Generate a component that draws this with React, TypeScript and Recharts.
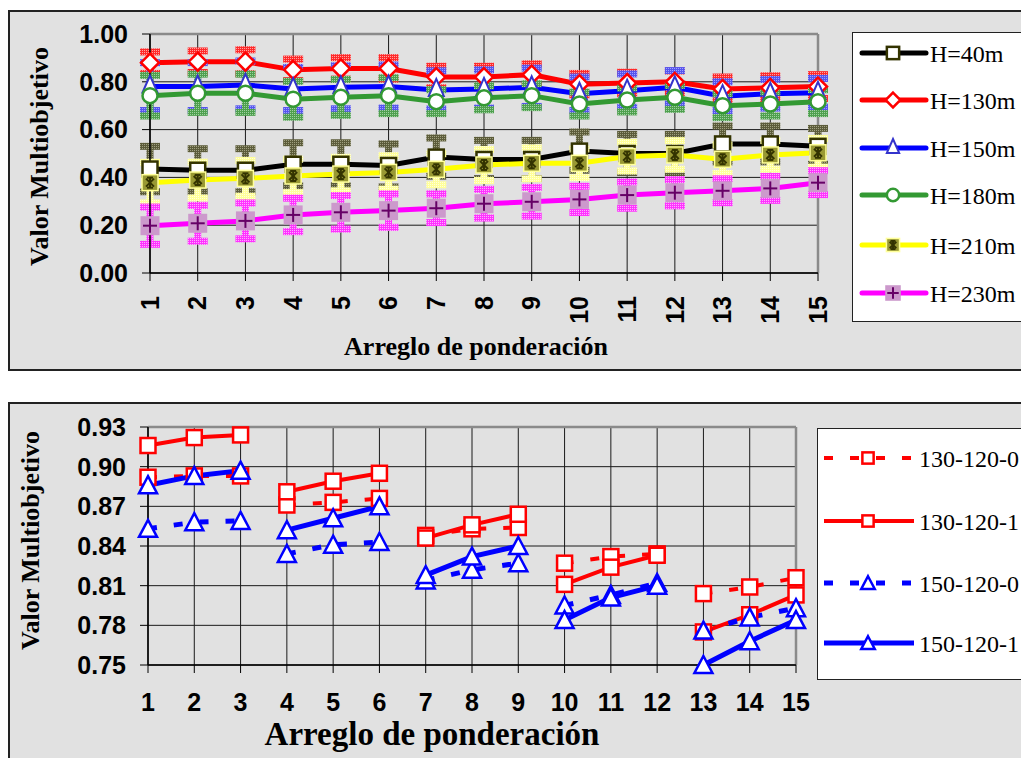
import React from 'react';
import { LineChart, Line, XAxis, YAxis, CartesianGrid, ErrorBar, ReferenceLine } from 'recharts';

// ---------- DATA ----------
const categories = [1, 2, 3, 4, 5, 6, 7, 8, 9, 10, 11, 12, 13, 14, 15];

// Top chart
const topYTicks = [0, 0.2, 0.4, 0.6, 0.8, 1.0];
const h40 = [0.435, 0.43, 0.43, 0.455, 0.455, 0.45, 0.485, 0.475, 0.475, 0.51, 0.5, 0.5, 0.54, 0.54, 0.53];
const h130 = [0.88, 0.884, 0.884, 0.85, 0.856, 0.856, 0.82, 0.82, 0.83, 0.79, 0.795, 0.8, 0.77, 0.775, 0.78];
const h150 = [0.78, 0.78, 0.787, 0.77, 0.777, 0.78, 0.766, 0.77, 0.777, 0.75, 0.763, 0.777, 0.74, 0.75, 0.754];
const h180 = [0.742, 0.752, 0.752, 0.727, 0.735, 0.742, 0.717, 0.733, 0.742, 0.707, 0.724, 0.735, 0.7, 0.707, 0.717];
const h210 = [0.378, 0.389, 0.396, 0.406, 0.414, 0.421, 0.434, 0.452, 0.459, 0.459, 0.487, 0.494, 0.476, 0.494, 0.503];
const h230 = [0.198, 0.208, 0.218, 0.243, 0.254, 0.261, 0.271, 0.29, 0.298, 0.308, 0.326, 0.336, 0.344, 0.354, 0.378];

const err40 = [0.095, 0.09, 0.09, 0.09, 0.09, 0.09, 0.08, 0.08, 0.08, 0.08, 0.08, 0.08, 0.075, 0.075, 0.075];
const err130 = [0.045, 0.045, 0.05, 0.045, 0.045, 0.045, 0.045, 0.045, 0.045, 0.045, 0.045, 0.045, 0.05, 0.05, 0.05];
const err150 = [0.1, 0.1, 0.1, 0.09, 0.09, 0.09, 0.08, 0.08, 0.08, 0.07, 0.07, 0.07, 0.06, 0.06, 0.06];
const err180 = [0.085, 0.08, 0.08, 0.075, 0.075, 0.075, 0.05, 0.05, 0.05, 0.05, 0.05, 0.05, 0.05, 0.05, 0.05];
const err210 = [0.085, 0.075, 0.075, 0.07, 0.07, 0.07, 0.065, 0.065, 0.065, 0.06, 0.06, 0.06, 0.06, 0.06, 0.06];
const err230 = [0.078, 0.075, 0.075, 0.07, 0.07, 0.07, 0.06, 0.06, 0.06, 0.055, 0.055, 0.055, 0.05, 0.05, 0.05];

const topNames = ['H=40m', 'H=130m', 'H=150m', 'H=180m', 'H=210m', 'H=230m'];

// Bottom chart
const bottomYTicks = [0.75, 0.78, 0.81, 0.84, 0.87, 0.9, 0.93];
const s130_0 = [0.892, 0.893, 0.893, 0.871, 0.873, 0.876, 0.848, 0.853, 0.854, 0.827, 0.832, 0.834, 0.804, 0.809, 0.816];
const s130_1 = [0.916, 0.922, 0.924, 0.881, 0.889, 0.895, 0.846, 0.856, 0.864, 0.811, 0.824, 0.833, 0.775, 0.788, 0.803];
const s150_0 = [0.853, 0.858, 0.859, 0.834, 0.841, 0.843, 0.814, 0.822, 0.827, 0.795, 0.803, 0.812, 0.776, 0.786, 0.793];
const s150_1 = [0.886, 0.893, 0.897, 0.852, 0.861, 0.87, 0.818, 0.832, 0.84, 0.784, 0.801, 0.81, 0.75, 0.768, 0.784];
const groupSize = 3;
const bottomNames = ['130-120-0', '130-120-1', '150-120-0', '150-120-1'];

// ---------- build tables ----------
const topData = categories.map((c, i) => ({
  x: c,
  h40: h40[i], e40: err40[i],
  h130: h130[i], e130: err130[i],
  h150: h150[i], e150: err150[i],
  h180: h180[i], e180: err180[i],
  h210: h210[i], e210: err210[i],
  h230: h230[i], e230: err230[i],
}));

const bottomData: any[] = [];
categories.forEach((c, i) => {
  bottomData.push({ x: c, a: s130_0[i], b: s130_1[i], c: s150_0[i], d: s150_1[i] });
  if ((i + 1) % groupSize === 0 && i < categories.length - 1) {
    bottomData.push({ x: c + 0.5, a: null, b: null, c: null, d: null });
  }
});

// ---------- styles ----------
const BG = '#e1e1e1';
const SANS = '"Liberation Sans", Arial, sans-serif';
const SERIF = '"Liberation Serif", "Times New Roman", serif';

// ---------- markers ----------
type Draw = (x: number, y: number, s?: number) => React.ReactNode;

const mSquare40: Draw = (x, y, s = 1) => (
  <rect x={x - 7.5 * s} y={y - 7.5 * s} width={15 * s} height={15 * s} fill="#fff" stroke="#333300" strokeWidth={2.5} />
);
const mDiamond: Draw = (x, y, s = 1) => {
  const r = 9 * s;
  return <polygon points={`${x},${y - r} ${x + r},${y} ${x},${y + r} ${x - r},${y}`} fill="#fff" stroke="#ff0000" strokeWidth={2.5} />;
};
const mTri150: Draw = (x, y, s = 1) => (
  <polygon points={`${x},${y - 11 * s} ${x + 7.5 * s},${y + 6 * s} ${x - 7.5 * s},${y + 6 * s}`} fill="#fff" stroke="#3333cc" strokeWidth={2} />
);
const mCircle: Draw = (x, y, s = 1) => (
  <circle cx={x} cy={y} r={7.5 * s} fill="#fff" stroke="#339933" strokeWidth={2.5} />
);
const mStar: Draw = (x, y, s = 1) => (
  <g>
    <rect x={x - 8 * s} y={y - 8 * s} width={16 * s} height={16 * s} fill="#999933" stroke="#ffff99" strokeWidth={1.5} />
    <g stroke="#333300" strokeWidth={2}>
      <line x1={x - 4 * s} y1={y - 4 * s} x2={x + 4 * s} y2={y + 4 * s} />
      <line x1={x - 4 * s} y1={y + 4 * s} x2={x + 4 * s} y2={y - 4 * s} />
      <line x1={x} y1={y - 5 * s} x2={x} y2={y + 5 * s} />
      <line x1={x - 3 * s} y1={y - 5 * s} x2={x + 3 * s} y2={y - 5 * s} />
      <line x1={x - 3 * s} y1={y + 5 * s} x2={x + 3 * s} y2={y + 5 * s} />
    </g>
  </g>
);
const mPlus: Draw = (x, y, s = 1) => (
  <g>
    <rect x={x - 9.5 * s} y={y - 9.5 * s} width={19 * s} height={19 * s} fill="#cc99cc" />
    <g stroke="#660066" strokeWidth={2}>
      <line x1={x - 7 * s} y1={y} x2={x + 7 * s} y2={y} />
      <line x1={x} y1={y - 7 * s} x2={x} y2={y + 7 * s} />
    </g>
  </g>
);
const mSqRed: Draw = (x, y, s = 1) => (
  <rect x={x - 7.5 * s} y={y - 7.5 * s} width={15 * s} height={15 * s} fill="#fff" stroke="#ff0000" strokeWidth={2.5} />
);
const mTriBlue: Draw = (x, y, s = 1) => (
  <polygon points={`${x},${y - 9 * s} ${x + 9 * s},${y + 8 * s} ${x - 9 * s},${y + 8 * s}`} fill="#fff" stroke="#0000ff" strokeWidth={2.5} />
);

const dotFn = (draw: Draw) => (p: any) => {
  const { cx, cy, index } = p;
  if (cx == null || cy == null || Number.isNaN(cx) || Number.isNaN(cy)) return <g key={`n${index}`} />;
  return <g key={`d${index}`}>{draw(cx, cy)}</g>;
};

const topSeries = [
  { key: 'h40', err: 'e40', name: topNames[0], color: '#000000', pat: 'pOlive', marker: mSquare40 },
  { key: 'h130', err: 'e130', name: topNames[1], color: '#ff0000', pat: 'pRed', marker: mDiamond },
  { key: 'h150', err: 'e150', name: topNames[2], color: '#0000ff', pat: 'pBlue', marker: mTri150 },
  { key: 'h180', err: 'e180', name: topNames[3], color: '#339933', pat: 'pGreen', marker: mCircle },
  { key: 'h210', err: 'e210', name: topNames[4], color: '#ffff00', pat: 'pYellow', marker: mStar },
  { key: 'h230', err: 'e230', name: topNames[5], color: '#ff00ff', pat: 'pMagenta', marker: mPlus },
];

const bottomSeries = [
  { key: 'a', name: bottomNames[0], color: '#ff0000', dash: '9 17', width: 4, marker: mSqRed },
  { key: 'b', name: bottomNames[1], color: '#ff0000', dash: undefined, width: 4, marker: mSqRed },
  { key: 'c', name: bottomNames[2], color: '#0000ff', dash: '9 17', width: 5, marker: mTriBlue },
  { key: 'd', name: bottomNames[3], color: '#0000ff', dash: undefined, width: 5, marker: mTriBlue },
];

const patterns = [
  { id: 'pOlive', base: '#5c5c3a', dot: '#a0a080' },
  { id: 'pRed', base: '#ff2a2a', dot: '#ffa0a0' },
  { id: 'pBlue', base: '#5555ee', dot: '#a0a0ff' },
  { id: 'pGreen', base: '#4ea04e', dot: '#a0d0a0' },
  { id: 'pYellow', base: '#ffff9a', dot: '#ffffdd' },
  { id: 'pMagenta', base: '#ff33ff', dot: '#ffaaff' },
];

const RotTick = (props: any) => {
  const { x, y, payload } = props;
  return (
    <g transform={`translate(${x},${y})`}>
      <text transform="rotate(-90)" x={-13} y={0} dy="0.35em" textAnchor="end" fill="#000"
        fontSize={25} fontWeight="bold" fontFamily={SANS}>
        {payload.value}
      </text>
    </g>
  );
};

const tickStyle = { fill: '#000', fontSize: 25, fontWeight: 'bold', fontFamily: SANS } as any;

export default function App() {
  return (
    <div style={{ position: 'fixed', left: 0, top: 0, width: 1021, height: 758, overflow: 'hidden', background: '#fff' }}>
      <svg width={0} height={0} style={{ position: 'absolute' }}>
        <defs>
          {patterns.map((p) => (
            <pattern key={p.id} id={p.id} width={2} height={2} patternUnits="userSpaceOnUse">
              <rect width={2} height={2} fill={p.base} />
              <rect width={1} height={1} fill={p.dot} />
            </pattern>
          ))}
        </defs>
      </svg>

      {/* Top box */}
      <div style={{ position: 'absolute', left: 8, top: 10, width: 1100, height: 361, background: BG, border: '2px solid #222', boxSizing: 'border-box' }} />
      <div style={{ position: 'absolute', left: 8, top: 10 }}>
        <LineChart width={1040} height={360} data={topData} margin={{ top: 24, right: 230, bottom: 37, left: 0 }}>
          <CartesianGrid stroke="#1a1a1a" strokeWidth={1} />
          <ReferenceLine y={1} stroke="#8a8a8a" strokeWidth={2.5} />
          <ReferenceLine x={15} stroke="#8a8a8a" strokeWidth={2.5} />
          <XAxis type="number" dataKey="x" domain={[1, 15]} ticks={categories} interval={0} height={60}
            tickSize={8} axisLine={{ stroke: '#000', strokeWidth: 1.5 }} tickLine={{ stroke: '#000' }} tick={<RotTick />} />
          <YAxis type="number" domain={[0, 1]} ticks={topYTicks} interval={0} width={142} tickSize={8} tickMargin={14}
            tickFormatter={(v: number) => v.toFixed(2)} axisLine={{ stroke: '#000', strokeWidth: 1.5 }}
            tickLine={{ stroke: '#000' }} tick={tickStyle} />
          {topSeries.map((s) => (
            <Line key={s.key} type="linear" dataKey={s.key} stroke={s.color} strokeWidth={5}
              dot={dotFn(s.marker)} activeDot={false} isAnimationActive={false} legendType="none">
              <ErrorBar dataKey={s.err} direction="y" width={10} strokeWidth={7} stroke={`url(#${s.pat})`} isAnimationActive={false} />
            </Line>
          ))}
        </LineChart>
      </div>

      {/* Bottom box */}
      <div style={{ position: 'absolute', left: 8, top: 402, width: 1100, height: 400, background: BG, border: '2px solid #222', boxSizing: 'border-box' }} />
      <div style={{ position: 'absolute', left: 8, top: 402 }}>
        <LineChart width={1040} height={360} data={bottomData} margin={{ top: 25, right: 252, bottom: 37, left: 0 }}>
          <CartesianGrid stroke="#1a1a1a" strokeWidth={1} />
          <ReferenceLine y={0.93} stroke="#8a8a8a" strokeWidth={2.5} />
          <ReferenceLine x={15} stroke="#8a8a8a" strokeWidth={2.5} />
          <XAxis type="number" dataKey="x" domain={[1, 15]} ticks={categories} interval={0} height={60}
            tickSize={8} tickMargin={20} axisLine={{ stroke: '#000', strokeWidth: 1.5 }} tickLine={{ stroke: '#000' }} tick={tickStyle} />
          <YAxis type="number" domain={[0.75, 0.93]} ticks={bottomYTicks} interval={0} width={140} tickSize={8} tickMargin={14}
            tickFormatter={(v: number) => v.toFixed(2)} axisLine={{ stroke: '#000', strokeWidth: 1.5 }}
            tickLine={{ stroke: '#000' }} tick={tickStyle} />
          {bottomSeries.map((s) => (
            <Line key={s.key} type="linear" dataKey={s.key} stroke={s.color} strokeWidth={s.width}
              strokeDasharray={s.dash} connectNulls={false}
              dot={dotFn(s.marker)} activeDot={false} isAnimationActive={false} legendType="none" />
          ))}
        </LineChart>
      </div>

      {/* Titles and legends */}
      <svg width={1021} height={758} style={{ position: 'absolute', left: 0, top: 0, pointerEvents: 'none' }}>
        <text x={476} y={355} textAnchor="middle" fontFamily={SERIF} fontWeight="bold" fontSize={26} fill="#000">Arreglo de ponderación</text>
        <text transform="translate(48,156.5) rotate(-90)" textAnchor="middle" fontFamily={SERIF} fontWeight="bold" fontSize={26} fill="#000">Valor Multiobjetivo</text>
        <text x={432} y={745} textAnchor="middle" fontFamily={SERIF} fontWeight="bold" fontSize={33} fill="#000">Arreglo de ponderación</text>
        <text transform="translate(39,540.5) rotate(-90)" textAnchor="middle" fontFamily={SERIF} fontWeight="bold" fontSize={26} fill="#000">Valor Multiobjetivo</text>

        {/* top legend */}
        <rect x={852.5} y={32.5} width={200} height={289} fill="#fff" stroke="#222" strokeWidth={1} />
        {topSeries.map((s, i) => {
          const ys = [53, 100, 148, 195, 245, 293][i];
          return (
            <g key={s.key}>
              <line x1={862} y1={ys} x2={926} y2={ys} stroke={s.color} strokeWidth={5} strokeLinecap="round" />
              {s.marker(893, ys, 0.82)}
              <text x={930} y={ys + 9} fontFamily={SERIF} fontSize={24} fill="#000">{s.name}</text>
            </g>
          );
        })}

        {/* bottom legend */}
        <rect x={817.5} y={428.5} width={220} height={251} fill="#fff" stroke="#222" strokeWidth={1} />
        {bottomSeries.map((s, i) => {
          const ys = [458, 521, 583, 643][i];
          return (
            <g key={s.key}>
              <line x1={824} y1={ys} x2={914} y2={ys} stroke={s.color} strokeWidth={s.width} strokeDasharray={s.dash} />
              {s.marker(868, ys, 0.75)}
              <text x={919} y={ys + 9} fontFamily={SERIF} fontSize={24} fill="#000">{s.name}</text>
            </g>
          );
        })}
      </svg>
    </div>
  );
}
